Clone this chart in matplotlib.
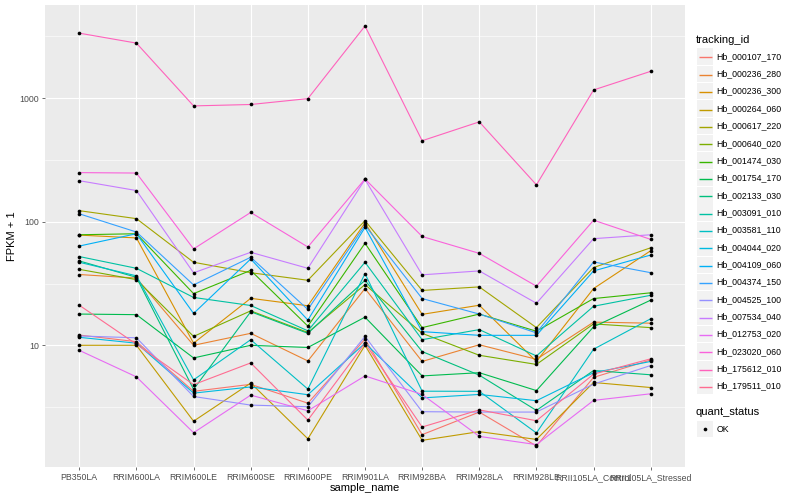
import numpy as np
import matplotlib.pyplot as plt
from matplotlib.patches import Rectangle

plt.rcParams['font.family'] = ['Liberation Sans', 'DejaVu Sans']

samples = ["PB350LA", "RRIM600LA", "RRIM600LE", "RRIM600SE", "RRIM600PE",
           "RRIM901LA", "RRIM928BA", "RRIM928LA", "RRIM928LE",
           "RRII105LA_Control", "RRII105LA_Stressed"]

tracking_ids = ["Hb_000107_170", "Hb_000236_280", "Hb_000236_300", "Hb_000264_060",
                "Hb_000617_220", "Hb_000640_020", "Hb_001474_030", "Hb_001754_170",
                "Hb_002133_030", "Hb_003091_010", "Hb_003581_110", "Hb_004044_020",
                "Hb_004109_060", "Hb_004374_150", "Hb_004525_100", "Hb_007534_040",
                "Hb_012753_020", "Hb_023020_060", "Hb_175612_010", "Hb_179511_010"]

# ggplot default hue palette, 20 levels
palette = ["#F8766D", "#EA8331", "#D89000", "#C09B00", "#A3A500", "#7CAE00",
           "#39B600", "#00BB4E", "#00BF7D", "#00C1A3", "#00BFC4", "#00BAE0",
           "#00B0F6", "#35A2FF", "#9590FF", "#C77CFF", "#E76BF3", "#FA62DB",
           "#FF62BC", "#FF6C91"]

# FPKM + 1 per sample
hb_000107_170 = [12.1, 10.7, 4.24, 4.83, 3.4, 11.2, 1.89, 2.88, 1.53, 5.5, 7.6]
hb_000236_280 = [37.4, 35.0, 10.0, 12.5, 7.47, 28.8, 7.4, 10.1, 7.7, 15.4, 15.1]
hb_000236_300 = [78.0, 74.0, 10.4, 24.0, 20.9, 98.0, 17.8, 21.1, 7.4, 28.8, 58.3]
hb_000264_060 = [10.0, 10.0, 2.43, 4.95, 1.75, 10.0, 1.7, 2.0, 1.73, 5.0, 4.55]
hb_000617_220 = [123, 106, 47.0, 38.7, 33.6, 102, 27.8, 29.7, 13.9, 42.6, 61.6]
hb_000640_020 = [41.2, 34.0, 11.8, 19.0, 12.7, 31.0, 12.5, 8.3, 7.0, 14.9, 13.9]
hb_001474_030 = [78.5, 80.0, 26.2, 40.4, 14.3, 67.0, 13.9, 17.9, 13.0, 23.9, 26.6]
hb_001754_170 = [17.9, 17.7, 7.9, 10.0, 9.6, 16.9, 5.65, 6.0, 4.3, 14.1, 23.2]
hb_002133_030 = [48.2, 35.5, 4.4, 18.7, 12.5, 33.6, 8.9, 5.73, 2.97, 6.25, 5.77]
hb_003091_010 = [52.3, 42.0, 24.4, 21.0, 13.1, 47.0, 11.1, 13.4, 8.2, 20.7, 25.4]
hb_003581_110 = [47.0, 36.5, 5.25, 11.1, 4.42, 38.0, 4.25, 4.24, 1.95, 9.3, 16.4]
hb_004044_020 = [11.6, 10.4, 4.1, 4.6, 3.98, 10.4, 3.75, 4.0, 3.56, 6.0, 7.4]
hb_004109_060 = [63.6, 80.0, 18.1, 50.0, 16.0, 90.0, 12.9, 12.04, 12.04, 40.0, 53.8]
hb_004374_150 = [116, 82.6, 30.8, 51.6, 19.5, 93.5, 23.9, 17.9, 12.6, 47.3, 38.7]
hb_004525_100 = [11.9, 11.5, 3.85, 3.28, 3.18, 11.8, 2.9, 2.88, 2.88, 4.85, 6.86]
hb_007534_040 = [215, 179, 38.6, 56.6, 42.0, 220, 37.2, 40.0, 21.9, 73.0, 78.5]
hb_012753_020 = [9.1, 5.55, 1.96, 3.95, 2.95, 5.65, 4.0, 1.83, 1.57, 3.58, 4.05]
hb_023020_060 = [250, 248, 60.3, 119, 62.5, 222, 76.0, 55.5, 30.1, 103, 72.0]
hb_175612_010 = [3365, 2795, 867, 890, 993, 3845, 453, 644, 199, 1167, 1652]
hb_179511_010 = [21.1, 10.2, 4.8, 7.2, 2.48, 10.4, 2.18, 3.0, 2.45, 5.84, 7.77]

fpkm = [hb_000107_170, hb_000236_280, hb_000236_300, hb_000264_060, hb_000617_220,
        hb_000640_020, hb_001474_030, hb_001754_170, hb_002133_030, hb_003091_010,
        hb_003581_110, hb_004044_020, hb_004109_060, hb_004374_150, hb_004525_100,
        hb_007534_040, hb_012753_020, hb_023020_060, hb_175612_010, hb_179511_010]

fig = plt.figure(figsize=(8, 5), dpi=100)
W, H = 800, 500
ax = fig.add_axes([45 / W, 33 / H, 640 / W, 462 / H])
ax.set_facecolor("#EBEBEB")
for s in ax.spines.values():
    s.set_visible(False)

x = np.arange(len(samples))
for vals, col in zip(fpkm, palette):
    ax.plot(x, vals, color=col, lw=0.8, zorder=2)
for vals in fpkm:
    ax.scatter(x, vals, s=7, color="black", zorder=3, linewidths=0)

ax.set_yscale("log")
allv = np.log10(np.concatenate([np.array(v, float) for v in fpkm]))
lo, hi = allv.min(), allv.max()
pad = (hi - lo) * 0.05
ax.set_ylim(10 ** (lo - pad), 10 ** (hi + pad))
ax.set_xlim(-0.6, len(samples) - 0.4)

ax.set_yticks([10, 100, 1000])
ax.set_yticklabels(["10", "100", "1000"])
ax.set_yticks([10 ** 0.5, 10 ** 1.5, 10 ** 2.5, 10 ** 3.5], minor=True)
ax.yaxis.set_minor_formatter(plt.NullFormatter())
ax.set_xticks(x)
ax.set_xticklabels(samples)

ax.grid(True, which="major", color="white", lw=0.8)
ax.grid(True, which="minor", axis="y", color="white", lw=0.4)
ax.set_axisbelow(True)
ax.tick_params(which="major", length=2.2, width=0.5, color="#333333",
               labelsize=6.3, labelcolor="#4D4D4D", pad=2)
ax.tick_params(which="minor", length=0)

ax.set_xlabel("sample_name", fontsize=8, labelpad=1)
ax.set_ylabel("FPKM + 1", fontsize=8, labelpad=2)

# legend drawn in pixel coordinates
lax = fig.add_axes([0, 0, 1, 1], zorder=5)
lax.set_xlim(0, W)
lax.set_ylim(H, 0)
lax.axis("off")
lax.text(696, 40, "tracking_id", fontsize=8, va="center", ha="left")
for i, (name, col) in enumerate(zip(tracking_ids, palette)):
    yc = 56.5 + i * 17.35
    ly = round(yc) + 0.5
    lax.add_patch(Rectangle((697, yc - 8.2), 16.4, 16.4, color="#F2F2F2", lw=0))
    lax.plot([698.5, 711.5], [ly, ly], color=col, lw=1.0, solid_capstyle="butt")
    lax.text(716.5, yc, name, fontsize=6.3, va="center", ha="left")
lax.text(696, 412, "quant_status", fontsize=8, va="center", ha="left")
lax.add_patch(Rectangle((697, 420.8), 16.4, 16.4, color="#F2F2F2", lw=0))
lax.scatter([705], [429], s=7, color="black", linewidths=0)
lax.text(716.5, 429, "OK", fontsize=6.3, va="center", ha="left")

fig.savefig("out.png", dpi=100)
